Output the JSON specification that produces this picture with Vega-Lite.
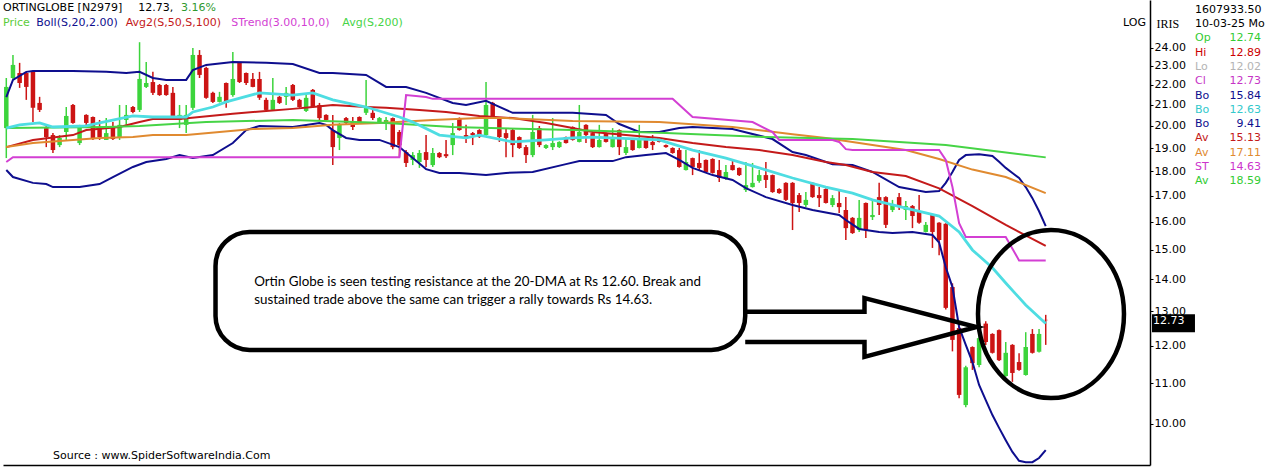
{
 "$schema": "https://vega.github.io/schema/vega-lite/v6.json",
 "padding": 0,
 "background": "white",
 "spacing": 45,
 "bounds": "flush",
 "config": {"view": {"stroke": null}, "font": "DejaVu Sans", "text": {"font": "DejaVu Sans", "fontSize": 11}},
 "resolve": {"scale": {"color": "independent"}},
 "datasets": {
  "ohlc": [
   {"d":0,"o":19.90,"h":22.36,"l":18.56,"c":21.90},{"d":1,"o":22.36,"h":23.59,"l":22.31,"c":23.05},{"d":2,"o":22.62,"h":23.16,"l":21.85,"c":22.10},{"d":3,"o":22.62,"h":22.68,"l":21.25,"c":21.90},{"d":4,"o":22.68,"h":22.70,"l":20.18,"c":20.86},
   {"d":5,"o":21.10,"h":21.40,"l":20.66,"c":20.76},{"d":6,"o":19.90,"h":20.00,"l":19.04,"c":19.49},{"d":7,"o":19.58,"h":19.67,"l":18.78,"c":18.91},{"d":8,"o":19.13,"h":19.58,"l":19.04,"c":19.45},{"d":9,"o":19.72,"h":20.90,"l":19.36,"c":20.47},
   {"d":10,"o":21.00,"h":21.05,"l":20.10,"c":20.14},{"d":11,"o":19.22,"h":20.05,"l":19.13,"c":19.95},{"d":12,"o":20.52,"h":20.55,"l":19.90,"c":20.14},{"d":13,"o":20.42,"h":20.45,"l":19.36,"c":19.40},{"d":14,"o":19.90,"h":20.28,"l":19.36,"c":19.49},
   {"d":15,"o":19.36,"h":20.37,"l":19.36,"c":19.67},{"d":16,"o":19.95,"h":20.18,"l":19.36,"c":19.40},{"d":17,"o":19.49,"h":21.00,"l":19.36,"c":20.05},{"d":18,"o":20.28,"h":21.00,"l":20.05,"c":20.52},{"d":19,"o":20.90,"h":20.95,"l":20.60,"c":20.66},
   {"d":20,"o":20.76,"h":24.30,"l":20.66,"c":22.31},{"d":21,"o":21.90,"h":23.21,"l":21.85,"c":22.10},{"d":22,"o":22.15,"h":22.68,"l":21.49,"c":21.60},{"d":23,"o":22.00,"h":22.05,"l":21.45,"c":21.49},{"d":24,"o":22.00,"h":22.05,"l":21.45,"c":21.49},
   {"d":25,"o":21.60,"h":21.90,"l":20.42,"c":20.45},{"d":26,"o":20.28,"h":21.00,"l":19.90,"c":20.52},{"d":27,"o":20.05,"h":21.00,"l":19.67,"c":20.52},{"d":28,"o":20.86,"h":23.97,"l":20.76,"c":23.59},{"d":29,"o":23.59,"h":23.86,"l":22.36,"c":22.52},
   {"d":30,"o":22.89,"h":22.95,"l":21.30,"c":21.35},{"d":31,"o":21.60,"h":21.65,"l":21.10,"c":21.15},{"d":32,"o":21.15,"h":21.65,"l":21.12,"c":21.40},{"d":33,"o":22.10,"h":22.12,"l":20.86,"c":21.10},{"d":34,"o":21.49,"h":23.75,"l":21.40,"c":22.31},
   {"d":35,"o":23.16,"h":23.20,"l":22.10,"c":22.15},{"d":36,"o":22.62,"h":22.65,"l":22.00,"c":22.10},{"d":37,"o":22.31,"h":22.62,"l":21.88,"c":21.90},{"d":38,"o":22.31,"h":22.68,"l":21.25,"c":21.35},{"d":39,"o":21.25,"h":21.35,"l":20.66,"c":20.76},
   {"d":40,"o":20.76,"h":22.36,"l":20.74,"c":21.25},{"d":41,"o":21.40,"h":21.45,"l":21.05,"c":21.10},{"d":42,"o":21.40,"h":21.90,"l":21.00,"c":21.60},{"d":43,"o":22.00,"h":22.05,"l":21.20,"c":21.25},{"d":44,"o":21.25,"h":21.30,"l":20.86,"c":20.90},
   {"d":45,"o":20.71,"h":21.49,"l":20.66,"c":21.35},{"d":46,"o":21.75,"h":21.80,"l":20.86,"c":20.90},{"d":47,"o":21.00,"h":21.10,"l":20.28,"c":20.37},{"d":48,"o":20.52,"h":20.55,"l":20.25,"c":20.28},{"d":49,"o":19.81,"h":20.52,"l":18.26,"c":19.04},
   {"d":50,"o":19.45,"h":20.14,"l":18.91,"c":20.05},{"d":51,"o":20.37,"h":20.42,"l":20.05,"c":20.14},{"d":52,"o":20.18,"h":20.42,"l":19.81,"c":19.95},{"d":53,"o":20.42,"h":20.45,"l":20.15,"c":20.18},{"d":54,"o":20.62,"h":22.26,"l":20.52,"c":20.90},
   {"d":55,"o":20.62,"h":20.90,"l":20.28,"c":20.37},{"d":56,"o":20.18,"h":20.42,"l":20.14,"c":20.37},{"d":57,"o":20.14,"h":20.42,"l":19.81,"c":20.28},{"d":58,"o":20.37,"h":20.40,"l":18.95,"c":19.04},{"d":59,"o":19.72,"h":19.81,"l":18.60,"c":19.13},
   {"d":60,"o":18.82,"h":18.91,"l":18.18,"c":18.35},{"d":61,"o":18.48,"h":18.82,"l":18.26,"c":18.69},{"d":62,"o":18.39,"h":18.91,"l":18.14,"c":18.78},{"d":63,"o":18.82,"h":19.58,"l":18.18,"c":18.48},{"d":64,"o":18.26,"h":19.00,"l":18.18,"c":18.78},
   {"d":65,"o":18.78,"h":18.82,"l":18.56,"c":18.60},{"d":66,"o":18.73,"h":19.36,"l":18.56,"c":18.64},{"d":67,"o":19.13,"h":20.14,"l":18.69,"c":19.67},{"d":68,"o":20.37,"h":20.40,"l":19.78,"c":19.81},{"d":69,"o":19.58,"h":20.05,"l":19.22,"c":19.45},
   {"d":70,"o":19.67,"h":19.72,"l":19.13,"c":19.58},{"d":71,"o":19.81,"h":19.85,"l":19.45,"c":19.49},{"d":72,"o":19.58,"h":22.15,"l":19.49,"c":21.00},{"d":73,"o":21.10,"h":21.15,"l":20.37,"c":20.42},{"d":74,"o":20.37,"h":20.40,"l":19.27,"c":19.49},
   {"d":75,"o":19.67,"h":19.90,"l":18.60,"c":19.45},{"d":76,"o":19.81,"h":19.90,"l":18.60,"c":19.13},{"d":77,"o":19.49,"h":19.52,"l":18.96,"c":19.00},{"d":78,"o":19.04,"h":19.13,"l":18.35,"c":18.69},{"d":79,"o":18.69,"h":20.52,"l":18.60,"c":19.72},
   {"d":80,"o":19.90,"h":20.00,"l":19.04,"c":19.13},{"d":81,"o":19.00,"h":19.17,"l":18.96,"c":19.13},{"d":82,"o":19.04,"h":20.37,"l":18.91,"c":19.22},{"d":83,"o":19.04,"h":19.30,"l":19.00,"c":19.27},{"d":84,"o":19.49,"h":19.52,"l":19.20,"c":19.22},
   {"d":85,"o":19.95,"h":19.98,"l":19.33,"c":19.36},{"d":86,"o":19.27,"h":21.00,"l":19.25,"c":19.72},{"d":87,"o":20.05,"h":20.08,"l":19.22,"c":19.58},{"d":88,"o":19.67,"h":19.70,"l":19.00,"c":19.04},{"d":89,"o":19.04,"h":20.05,"l":19.02,"c":19.36},
   {"d":90,"o":19.67,"h":19.70,"l":19.25,"c":19.27},{"d":91,"o":19.04,"h":19.90,"l":19.02,"c":19.45},{"d":92,"o":19.81,"h":19.84,"l":18.69,"c":19.04},{"d":93,"o":18.78,"h":19.45,"l":18.69,"c":19.04},{"d":94,"o":19.36,"h":19.40,"l":18.88,"c":18.91},
   {"d":95,"o":19.00,"h":20.05,"l":18.98,"c":19.36},{"d":96,"o":19.36,"h":19.40,"l":18.97,"c":19.00},{"d":97,"o":19.27,"h":19.58,"l":18.91,"c":19.13},{"d":98,"o":19.45,"h":19.48,"l":19.25,"c":19.27},{"d":99,"o":19.13,"h":19.16,"l":19.01,"c":19.04},
   {"d":100,"o":19.00,"h":19.03,"l":18.75,"c":18.78},{"d":101,"o":18.91,"h":19.00,"l":18.15,"c":18.18},{"d":102,"o":18.05,"h":18.91,"l":18.03,"c":18.39},{"d":103,"o":18.56,"h":18.58,"l":17.84,"c":18.18},{"d":104,"o":18.35,"h":18.91,"l":18.05,"c":18.14},
   {"d":105,"o":18.48,"h":18.50,"l":17.93,"c":17.97},{"d":106,"o":18.52,"h":18.55,"l":17.90,"c":17.93},{"d":107,"o":18.05,"h":18.48,"l":17.56,"c":17.72},{"d":108,"o":17.72,"h":18.26,"l":17.64,"c":17.97},{"d":109,"o":18.26,"h":18.48,"l":18.03,"c":18.05},
   {"d":110,"o":18.14,"h":18.16,"l":17.80,"c":17.84},{"d":111,"o":17.23,"h":18.39,"l":17.15,"c":17.43},{"d":112,"o":17.35,"h":18.35,"l":17.33,"c":17.52},{"d":113,"o":17.60,"h":18.05,"l":17.52,"c":17.84},{"d":114,"o":17.84,"h":18.39,"l":17.31,"c":17.64},
   {"d":115,"o":17.84,"h":17.86,"l":17.12,"c":17.15},{"d":116,"o":17.27,"h":17.30,"l":17.08,"c":17.11},{"d":117,"o":17.52,"h":17.55,"l":16.80,"c":16.84},{"d":118,"o":17.52,"h":17.55,"l":15.70,"c":16.72},{"d":119,"o":17.03,"h":17.11,"l":16.37,"c":16.72},
   {"d":120,"o":16.64,"h":17.15,"l":16.56,"c":16.84},{"d":121,"o":17.52,"h":17.55,"l":16.92,"c":16.95},{"d":122,"o":17.03,"h":17.35,"l":16.56,"c":16.91},{"d":123,"o":17.27,"h":17.30,"l":16.70,"c":16.72},{"d":124,"o":16.64,"h":17.03,"l":16.56,"c":16.91},
   {"d":125,"o":16.72,"h":17.23,"l":16.33,"c":16.56},{"d":126,"o":16.45,"h":16.95,"l":15.34,"c":15.77},{"d":127,"o":16.15,"h":16.18,"l":15.56,"c":15.59},{"d":128,"o":15.70,"h":16.84,"l":15.63,"c":16.15},{"d":129,"o":16.72,"h":16.74,"l":15.41,"c":15.70},
   {"d":130,"o":16.18,"h":16.84,"l":16.07,"c":16.26},{"d":131,"o":16.95,"h":17.52,"l":16.26,"c":16.64},{"d":132,"o":16.95,"h":16.98,"l":15.77,"c":15.89},{"d":133,"o":16.45,"h":16.84,"l":16.37,"c":16.64},{"d":134,"o":16.95,"h":17.11,"l":16.45,"c":16.56},
   {"d":135,"o":16.45,"h":16.80,"l":16.07,"c":16.60},{"d":136,"o":16.60,"h":16.64,"l":15.77,"c":16.22},{"d":137,"o":16.37,"h":17.03,"l":15.93,"c":15.97},{"d":138,"o":15.63,"h":16.00,"l":15.61,"c":15.89},{"d":139,"o":16.26,"h":16.28,"l":15.06,"c":15.63},
   {"d":140,"o":15.97,"h":15.99,"l":14.81,"c":15.34},{"d":141,"o":15.93,"h":15.95,"l":13.05,"c":13.10},{"d":142,"o":13.75,"h":13.87,"l":11.84,"c":12.16},{"d":143,"o":12.50,"h":12.59,"l":10.62,"c":10.70},{"d":144,"o":10.45,"h":11.45,"l":10.40,"c":11.41},
   {"d":145,"o":11.96,"h":11.98,"l":11.34,"c":11.52},{"d":146,"o":11.47,"h":12.35,"l":11.41,"c":12.21},{"d":147,"o":12.63,"h":12.70,"l":12.02,"c":12.10},{"d":148,"o":12.33,"h":12.35,"l":11.78,"c":11.80},{"d":149,"o":12.44,"h":12.46,"l":11.58,"c":11.60},
   {"d":150,"o":11.18,"h":12.10,"l":11.16,"c":11.80},{"d":151,"o":12.02,"h":12.04,"l":11.03,"c":11.26},{"d":152,"o":11.55,"h":11.79,"l":11.32,"c":11.34},{"d":153,"o":11.21,"h":12.38,"l":11.19,"c":11.96},{"d":154,"o":12.33,"h":12.47,"l":11.78,"c":11.80},
   {"d":155,"o":11.83,"h":12.47,"l":11.81,"c":12.33},{"d":156,"o":12.74,"h":12.89,"l":12.02,"c":12.73}
  ],
  "lines": [
   {"s":"bbu","d":0,"v":21.39},{"s":"bbu","d":1,"v":22.26},{"s":"bbu","d":3,"v":22.68},{"s":"bbu","d":4,"v":22.73},{"s":"bbu","d":10,"v":22.73},{"s":"bbu","d":15,"v":22.68},{"s":"bbu","d":18,"v":22.62},{"s":"bbu","d":20,"v":22.68},{"s":"bbu","d":22,"v":22.36},{"s":"bbu","d":24,"v":22.26},{"s":"bbu","d":27,"v":22.26},{"s":"bbu","d":28,"v":22.78},{"s":"bbu","d":30,"v":23.05},{"s":"bbu","d":34,"v":23.21},{"s":"bbu","d":39,"v":23.16},{"s":"bbu","d":43,"v":23.10},{"s":"bbu","d":47,"v":22.62},{"s":"bbu","d":49,"v":22.62},{"s":"bbu","d":54,"v":22.52},{"s":"bbu","d":57,"v":21.90},{"s":"bbu","d":60,"v":21.90},{"s":"bbu","d":63,"v":21.60},{"s":"bbu","d":67,"v":21.10},{"s":"bbu","d":69,"v":21.00},{"s":"bbu","d":72,"v":21.20},{"s":"bbu","d":73,"v":21.05},{"s":"bbu","d":76,"v":20.62},{"s":"bbu","d":85,"v":20.62},{"s":"bbu","d":90,"v":20.52},{"s":"bbu","d":92,"v":20.09},{"s":"bbu","d":95,"v":19.72},{"s":"bbu","d":98,"v":19.72},{"s":"bbu","d":101,"v":19.90},{"s":"bbu","d":103,"v":19.95},{"s":"bbu","d":109,"v":19.86},{"s":"bbu","d":115,"v":19.40},{"s":"bbu","d":118,"v":18.82},{"s":"bbu","d":120,"v":18.69},{"s":"bbu","d":124,"v":18.30},{"s":"bbu","d":127,"v":18.26},{"s":"bbu","d":130,"v":17.97},{"s":"bbu","d":134,"v":17.35},{"s":"bbu","d":138,"v":17.15},{"s":"bbu","d":140,"v":17.19},{"s":"bbu","d":141,"v":17.52},{"s":"bbu","d":142,"v":17.97},{"s":"bbu","d":143,"v":18.48},{"s":"bbu","d":144,"v":18.69},{"s":"bbu","d":146,"v":18.73},{"s":"bbu","d":148,"v":18.65},{"s":"bbu","d":149,"v":18.40},{"s":"bbu","d":150,"v":18.14},{"s":"bbu","d":151,"v":17.93},{"s":"bbu","d":152,"v":17.72},{"s":"bbu","d":153,"v":17.35},{"s":"bbu","d":154,"v":16.91},{"s":"bbu","d":155,"v":16.40},{"s":"bbu","d":156,"v":15.84},
   {"s":"bbm","d":0,"v":19.90},{"s":"bbm","d":2,"v":20.05},{"s":"bbm","d":5,"v":20.14},{"s":"bbm","d":7,"v":19.95},{"s":"bbm","d":12,"v":20.00},{"s":"bbm","d":14,"v":20.14},{"s":"bbm","d":19,"v":20.47},{"s":"bbm","d":22,"v":20.42},{"s":"bbm","d":27,"v":20.42},{"s":"bbm","d":28,"v":20.66},{"s":"bbm","d":31,"v":20.90},{"s":"bbm","d":33,"v":21.15},{"s":"bbm","d":38,"v":21.60},{"s":"bbm","d":43,"v":21.49},{"s":"bbm","d":46,"v":21.60},{"s":"bbm","d":49,"v":21.25},{"s":"bbm","d":54,"v":20.90},{"s":"bbm","d":59,"v":20.42},{"s":"bbm","d":61,"v":20.18},{"s":"bbm","d":65,"v":19.58},{"s":"bbm","d":69,"v":19.45},{"s":"bbm","d":71,"v":19.58},{"s":"bbm","d":76,"v":19.27},{"s":"bbm","d":81,"v":19.36},{"s":"bbm","d":85,"v":19.45},{"s":"bbm","d":88,"v":19.49},{"s":"bbm","d":98,"v":19.36},{"s":"bbm","d":103,"v":18.91},{"s":"bbm","d":108,"v":18.56},{"s":"bbm","d":113,"v":18.14},{"s":"bbm","d":118,"v":17.72},{"s":"bbm","d":123,"v":17.35},{"s":"bbm","d":127,"v":17.11},{"s":"bbm","d":130,"v":16.84},{"s":"bbm","d":135,"v":16.52},{"s":"bbm","d":140,"v":16.22},{"s":"bbm","d":143,"v":15.63},{"s":"bbm","d":145,"v":14.99},{"s":"bbm","d":148,"v":14.38},{"s":"bbm","d":150,"v":13.88},{"s":"bbm","d":153,"v":13.19},{"s":"bbm","d":156,"v":12.63},
   {"s":"bbl","d":0,"v":18.05},{"s":"bbl","d":1,"v":17.76},{"s":"bbl","d":4,"v":17.52},{"s":"bbl","d":6,"v":17.47},{"s":"bbl","d":7,"v":17.35},{"s":"bbl","d":11,"v":17.35},{"s":"bbl","d":14,"v":17.47},{"s":"bbl","d":16,"v":17.76},{"s":"bbl","d":19,"v":18.18},{"s":"bbl","d":21,"v":18.39},{"s":"bbl","d":24,"v":18.52},{"s":"bbl","d":26,"v":18.69},{"s":"bbl","d":28,"v":18.56},{"s":"bbl","d":31,"v":18.69},{"s":"bbl","d":34,"v":19.22},{"s":"bbl","d":36,"v":19.81},{"s":"bbl","d":38,"v":20.00},{"s":"bbl","d":43,"v":19.95},{"s":"bbl","d":47,"v":20.14},{"s":"bbl","d":48,"v":20.05},{"s":"bbl","d":49,"v":19.81},{"s":"bbl","d":51,"v":19.45},{"s":"bbl","d":53,"v":19.36},{"s":"bbl","d":56,"v":19.36},{"s":"bbl","d":59,"v":19.04},{"s":"bbl","d":61,"v":18.56},{"s":"bbl","d":63,"v":18.09},{"s":"bbl","d":65,"v":17.93},{"s":"bbl","d":68,"v":17.93},{"s":"bbl","d":72,"v":17.84},{"s":"bbl","d":75,"v":17.93},{"s":"bbl","d":79,"v":17.97},{"s":"bbl","d":84,"v":18.30},{"s":"bbl","d":86,"v":18.43},{"s":"bbl","d":91,"v":18.43},{"s":"bbl","d":93,"v":18.60},{"s":"bbl","d":96,"v":18.69},{"s":"bbl","d":99,"v":18.78},{"s":"bbl","d":101,"v":18.48},{"s":"bbl","d":103,"v":18.14},{"s":"bbl","d":106,"v":17.84},{"s":"bbl","d":109,"v":17.64},{"s":"bbl","d":111,"v":17.31},{"s":"bbl","d":114,"v":16.95},{"s":"bbl","d":118,"v":16.64},{"s":"bbl","d":121,"v":16.45},{"s":"bbl","d":125,"v":16.26},{"s":"bbl","d":126,"v":16.07},{"s":"bbl","d":128,"v":15.74},{"s":"bbl","d":131,"v":15.63},{"s":"bbl","d":133,"v":15.59},{"s":"bbl","d":136,"v":15.63},{"s":"bbl","d":139,"v":15.52},{"s":"bbl","d":140,"v":15.25},{"s":"bbl","d":141,"v":14.40},{"s":"bbl","d":142,"v":13.75},{"s":"bbl","d":143,"v":12.53},{"s":"bbl","d":144,"v":12.02},{"s":"bbl","d":145,"v":11.55},{"s":"bbl","d":146,"v":10.95},{"s":"bbl","d":147,"v":10.57},{"s":"bbl","d":148,"v":10.21},{"s":"bbl","d":149,"v":9.91},{"s":"bbl","d":150,"v":9.63},{"s":"bbl","d":151,"v":9.37},{"s":"bbl","d":152,"v":9.18},{"s":"bbl","d":153,"v":9.15},{"s":"bbl","d":154,"v":9.15},{"s":"bbl","d":155,"v":9.24},{"s":"bbl","d":156,"v":9.41},
   {"s":"ma50","d":0,"v":19.04},{"s":"ma50","d":4,"v":19.36},{"s":"ma50","d":10,"v":19.58},{"s":"ma50","d":12,"v":19.81},{"s":"ma50","d":17,"v":19.95},{"s":"ma50","d":20,"v":20.18},{"s":"ma50","d":22,"v":20.33},{"s":"ma50","d":26,"v":20.33},{"s":"ma50","d":29,"v":20.42},{"s":"ma50","d":34,"v":20.57},{"s":"ma50","d":39,"v":20.71},{"s":"ma50","d":43,"v":20.81},{"s":"ma50","d":46,"v":20.90},{"s":"ma50","d":49,"v":21.00},{"s":"ma50","d":54,"v":20.90},{"s":"ma50","d":57,"v":20.86},{"s":"ma50","d":62,"v":20.76},{"s":"ma50","d":66,"v":20.66},{"s":"ma50","d":71,"v":20.47},{"s":"ma50","d":76,"v":20.37},{"s":"ma50","d":81,"v":20.14},{"s":"ma50","d":85,"v":19.90},{"s":"ma50","d":88,"v":19.72},{"s":"ma50","d":93,"v":19.58},{"s":"ma50","d":98,"v":19.45},{"s":"ma50","d":103,"v":19.22},{"s":"ma50","d":108,"v":19.04},{"s":"ma50","d":113,"v":18.91},{"s":"ma50","d":118,"v":18.69},{"s":"ma50","d":123,"v":18.39},{"s":"ma50","d":126,"v":18.26},{"s":"ma50","d":130,"v":17.97},{"s":"ma50","d":135,"v":17.80},{"s":"ma50","d":140,"v":17.30},{"s":"ma50","d":145,"v":16.60},{"s":"ma50","d":150,"v":15.89},{"s":"ma50","d":156,"v":15.13},
   {"s":"ma100","d":0,"v":19.04},{"s":"ma100","d":4,"v":19.22},{"s":"ma100","d":10,"v":19.36},{"s":"ma100","d":14,"v":19.45},{"s":"ma100","d":19,"v":19.49},{"s":"ma100","d":22,"v":19.58},{"s":"ma100","d":27,"v":19.58},{"s":"ma100","d":32,"v":19.72},{"s":"ma100","d":37,"v":19.86},{"s":"ma100","d":43,"v":19.90},{"s":"ma100","d":49,"v":20.05},{"s":"ma100","d":56,"v":20.14},{"s":"ma100","d":64,"v":20.28},{"s":"ma100","d":71,"v":20.37},{"s":"ma100","d":75,"v":20.37},{"s":"ma100","d":85,"v":20.23},{"s":"ma100","d":98,"v":20.18},{"s":"ma100","d":109,"v":19.95},{"s":"ma100","d":118,"v":19.62},{"s":"ma100","d":123,"v":19.45},{"s":"ma100","d":127,"v":19.27},{"s":"ma100","d":135,"v":18.91},{"s":"ma100","d":140,"v":18.52},{"s":"ma100","d":145,"v":18.07},{"s":"ma100","d":150,"v":17.76},{"s":"ma100","d":156,"v":17.11},
   {"s":"ma200","d":0,"v":19.90},{"s":"ma200","d":15,"v":19.95},{"s":"ma200","d":20,"v":20.00},{"s":"ma200","d":30,"v":20.18},{"s":"ma200","d":43,"v":20.28},{"s":"ma200","d":57,"v":20.14},{"s":"ma200","d":67,"v":19.95},{"s":"ma200","d":85,"v":19.81},{"s":"ma200","d":99,"v":19.67},{"s":"ma200","d":114,"v":19.49},{"s":"ma200","d":127,"v":19.40},{"s":"ma200","d":141,"v":19.13},{"s":"ma200","d":156,"v":18.59},
   {"s":"st","d":0,"v":18.39},{"s":"st","d":1,"v":18.60},{"s":"st","d":59,"v":18.60},{"s":"st","d":60,"v":21.49},{"s":"st","d":63,"v":21.39},{"s":"st","d":64,"v":21.30},{"s":"st","d":100,"v":21.30},{"s":"st","d":103,"v":20.42},{"s":"st","d":112,"v":20.18},{"s":"st","d":115,"v":19.72},{"s":"st","d":116,"v":19.36},{"s":"st","d":124,"v":19.36},{"s":"st","d":125,"v":19.27},{"s":"st","d":126,"v":18.95},{"s":"st","d":127,"v":18.91},{"s":"st","d":140,"v":18.91},{"s":"st","d":141,"v":18.48},{"s":"st","d":142,"v":17.35},{"s":"st","d":143,"v":15.95},{"s":"st","d":144,"v":15.45},{"s":"st","d":150,"v":15.45},{"s":"st","d":152,"v":14.63},{"s":"st","d":156,"v":14.63}
  ],
  "hdr": [
   {"t":"ORTINGLOBE [N2979]","d":-0.495,"p":26.31,"s":"hdr"},
   {"t":"12.73,","d":19.8,"p":26.31,"s":"hdr"},
   {"t":"3.16%","d":26.22,"p":26.31,"s":"chg"},
   {"t":"Price","d":-0.495,"p":25.41,"s":"price"},
   {"t":"Boll(S,20,2.00)","d":4.5,"p":25.41,"s":"bbu"},
   {"t":"Avg2(S,50,S,100)","d":17.92,"p":25.41,"s":"ma50"},
   {"t":"STrend(3.00,10,0)","d":33.77,"p":25.41,"s":"st"},
   {"t":"Avg(S,200)","d":50.43,"p":25.41,"s":"ma200"},
   {"t":"LOG","d":167.6,"p":25.41,"s":"hdr"},
   {"t":"Source : www.SpiderSoftwareIndia.Com","d":7.01,"p":9.283,"s":"hdr"}
  ],
  "panel": [
   {"r":0,"k":"1607933.50","v":"","s":"hdr"},
   {"r":1,"k":"10-03-25 Mo","v":"","s":"hdr"},
   {"r":2,"k":"Op","v":"12.74","s":"op"},
   {"r":3,"k":"Hi","v":"12.89","s":"hi"},
   {"r":4,"k":"Lo","v":"12.02","s":"lo"},
   {"r":5,"k":"Cl","v":"12.73","s":"cl"},
   {"r":6,"k":"Bo","v":"15.84","s":"bbu"},
   {"r":7,"k":"Bo","v":"12.63","s":"bbm"},
   {"r":8,"k":"Bo","v":"9.41","s":"bbl"},
   {"r":9,"k":"Av","v":"15.13","s":"ma50"},
   {"r":10,"k":"Av","v":"17.11","s":"ma100"},
   {"r":11,"k":"ST","v":"14.63","s":"st"},
   {"r":12,"k":"Av","v":"18.59","s":"ma200"}
  ]
 },
 "hconcat": [
  {
   "width": 1147,
   "height": 465,
   "layer": [
    {
     "data": {"name": "ohlc"},
     "mark": {"type": "rule", "strokeWidth": 1.5},
     "encoding": {
      "x": {"field": "d", "type": "quantitative", "scale": {"domain": [-0.495, 171.65], "nice": false, "zero": false, "padding": 0}, "axis": {"labels": false, "ticks": false, "grid": false, "title": null, "domainColor": "#000000", "domainWidth": 1.5}},
      "y": {"field": "l", "type": "quantitative", "scale": {"type": "log", "domain": [9.0905, 26.806], "nice": false}, "axis": {"orient": "right", "values": [10,11,12,13,14,15,16,17,18,19,20,21,22,23,24], "format": ".2f", "grid": false, "domainColor": "#000000", "domainWidth": 1.5, "tickColor": "#000000", "tickSize": 3, "tickWidth": 1, "labelColor": "#000000", "labelFont": "DejaVu Sans", "labelFontSize": 11, "labelPadding": 1, "labelOverlap": false, "labelFlush": false, "title": "IRIS", "titleAngle": 0, "titleAlign": "left", "titleBaseline": "middle", "titleX": 6, "titleY": 23, "titleFont": "Liberation Serif", "titleFontSize": 12, "titleFontWeight": "normal", "titleColor": "#000000"}},
      "y2": {"field": "h"},
      "color": {"condition": {"test": "datum.c >= datum.o", "value": "#3cd43c"}, "value": "#cc1414"}
     }
    },
    {
     "data": {"name": "ohlc"},
     "mark": {"type": "bar", "size": 4.5},
     "encoding": {
      "x": {"field": "d", "type": "quantitative", "scale": {"domain": [-0.495, 171.65], "nice": false, "zero": false, "padding": 0}, "axis": {"labels": false, "ticks": false, "grid": false, "title": null, "domainColor": "#000000", "domainWidth": 1.5}},
      "y": {"field": "o", "type": "quantitative", "scale": {"type": "log", "domain": [9.0905, 26.806], "nice": false}, "axis": {"orient": "right", "values": [10,11,12,13,14,15,16,17,18,19,20,21,22,23,24], "format": ".2f", "grid": false, "domainColor": "#000000", "domainWidth": 1.5, "tickColor": "#000000", "tickSize": 3, "tickWidth": 1, "labelColor": "#000000", "labelFont": "DejaVu Sans", "labelFontSize": 11, "labelPadding": 1, "labelOverlap": false, "labelFlush": false, "title": "IRIS", "titleAngle": 0, "titleAlign": "left", "titleBaseline": "middle", "titleX": 6, "titleY": 23, "titleFont": "Liberation Serif", "titleFontSize": 12, "titleFontWeight": "normal", "titleColor": "#000000"}},
      "y2": {"field": "c"},
      "color": {"condition": {"test": "datum.c >= datum.o", "value": "#3cd43c"}, "value": "#cc1414"}
     }
    },
    {
     "data": {"name": "lines"},
     "transform": [{"filter": "datum.s != 'bbm'"}],
     "mark": {"type": "line", "strokeWidth": 2},
     "encoding": {
      "x": {"field": "d", "type": "quantitative", "scale": {"domain": [-0.495, 171.65], "nice": false, "zero": false, "padding": 0}, "axis": {"labels": false, "ticks": false, "grid": false, "title": null, "domainColor": "#000000", "domainWidth": 1.5}},
      "y": {"field": "v", "type": "quantitative", "scale": {"type": "log", "domain": [9.0905, 26.806], "nice": false}, "axis": {"orient": "right", "values": [10,11,12,13,14,15,16,17,18,19,20,21,22,23,24], "format": ".2f", "grid": false, "domainColor": "#000000", "domainWidth": 1.5, "tickColor": "#000000", "tickSize": 3, "tickWidth": 1, "labelColor": "#000000", "labelFont": "DejaVu Sans", "labelFontSize": 11, "labelPadding": 1, "labelOverlap": false, "labelFlush": false, "title": "IRIS", "titleAngle": 0, "titleAlign": "left", "titleBaseline": "middle", "titleX": 6, "titleY": 23, "titleFont": "Liberation Serif", "titleFontSize": 12, "titleFontWeight": "normal", "titleColor": "#000000"}},
      "color": {"field": "s", "type": "nominal", "scale": {"domain": ["bbu","bbm","bbl","ma50","ma100","st","ma200","price","hdr","chg"], "range": ["#0e0e8e","#4edde2","#0e0e8e","#c41a1a","#e08a30","#d33fd3","#46d446","#5ccc3c","#000000","#2f9a2f"]}, "legend": null}
     }
    },
    {
     "data": {"name": "lines"},
     "transform": [{"filter": "datum.s == 'bbm'"}],
     "mark": {"type": "line", "strokeWidth": 2.8},
     "encoding": {
      "x": {"field": "d", "type": "quantitative", "scale": {"domain": [-0.495, 171.65], "nice": false, "zero": false, "padding": 0}, "axis": {"labels": false, "ticks": false, "grid": false, "title": null, "domainColor": "#000000", "domainWidth": 1.5}},
      "y": {"field": "v", "type": "quantitative", "scale": {"type": "log", "domain": [9.0905, 26.806], "nice": false}, "axis": {"orient": "right", "values": [10,11,12,13,14,15,16,17,18,19,20,21,22,23,24], "format": ".2f", "grid": false, "domainColor": "#000000", "domainWidth": 1.5, "tickColor": "#000000", "tickSize": 3, "tickWidth": 1, "labelColor": "#000000", "labelFont": "DejaVu Sans", "labelFontSize": 11, "labelPadding": 1, "labelOverlap": false, "labelFlush": false, "title": "IRIS", "titleAngle": 0, "titleAlign": "left", "titleBaseline": "middle", "titleX": 6, "titleY": 23, "titleFont": "Liberation Serif", "titleFontSize": 12, "titleFontWeight": "normal", "titleColor": "#000000"}},
      "color": {"field": "s", "type": "nominal", "scale": {"domain": ["bbu","bbm","bbl","ma50","ma100","st","ma200","price","hdr","chg"], "range": ["#0e0e8e","#4edde2","#0e0e8e","#c41a1a","#e08a30","#d33fd3","#46d446","#5ccc3c","#000000","#2f9a2f"]}, "legend": null}
     }
    },
    {
     "data": {"values": [{"d": 31.4, "d2": 110.9, "p": 15.63, "p2": 11.88}]},
     "mark": {"type": "rect", "fill": "#ffffff", "stroke": "#000000", "strokeWidth": 4.5, "cornerRadius": 34},
     "encoding": {
      "x": {"field": "d", "type": "quantitative", "scale": {"domain": [-0.495, 171.65], "nice": false, "zero": false, "padding": 0}, "axis": {"labels": false, "ticks": false, "grid": false, "title": null, "domainColor": "#000000", "domainWidth": 1.5}},
      "x2": {"field": "d2"},
      "y": {"field": "p", "type": "quantitative", "scale": {"type": "log", "domain": [9.0905, 26.806], "nice": false}, "axis": {"orient": "right", "values": [10,11,12,13,14,15,16,17,18,19,20,21,22,23,24], "format": ".2f", "grid": false, "domainColor": "#000000", "domainWidth": 1.5, "tickColor": "#000000", "tickSize": 3, "tickWidth": 1, "labelColor": "#000000", "labelFont": "DejaVu Sans", "labelFontSize": 11, "labelPadding": 1, "labelOverlap": false, "labelFlush": false, "title": "IRIS", "titleAngle": 0, "titleAlign": "left", "titleBaseline": "middle", "titleX": 6, "titleY": 23, "titleFont": "Liberation Serif", "titleFontSize": 12, "titleFontWeight": "normal", "titleColor": "#000000"}},
      "y2": {"field": "p2"}
     }
    },
    {
     "data": {"values": [{"k":0,"d":110.9,"p":12.98},{"k":1,"d":128.8,"p":12.98},{"k":2,"d":128.8,"p":13.40},{"k":3,"d":145.6,"p":12.53},{"k":4,"d":128.8,"p":11.69},{"k":5,"d":128.8,"p":12.10},{"k":6,"d":110.9,"p":12.10}]},
     "mark": {"type": "line", "color": "#000000", "strokeWidth": 4.5, "strokeJoin": "miter"},
     "encoding": {
      "x": {"field": "d", "type": "quantitative", "scale": {"domain": [-0.495, 171.65], "nice": false, "zero": false, "padding": 0}, "axis": {"labels": false, "ticks": false, "grid": false, "title": null, "domainColor": "#000000", "domainWidth": 1.5}},
      "y": {"field": "p", "type": "quantitative", "scale": {"type": "log", "domain": [9.0905, 26.806], "nice": false}, "axis": {"orient": "right", "values": [10,11,12,13,14,15,16,17,18,19,20,21,22,23,24], "format": ".2f", "grid": false, "domainColor": "#000000", "domainWidth": 1.5, "tickColor": "#000000", "tickSize": 3, "tickWidth": 1, "labelColor": "#000000", "labelFont": "DejaVu Sans", "labelFontSize": 11, "labelPadding": 1, "labelOverlap": false, "labelFlush": false, "title": "IRIS", "titleAngle": 0, "titleAlign": "left", "titleBaseline": "middle", "titleX": 6, "titleY": 23, "titleFont": "Liberation Serif", "titleFontSize": 12, "titleFontWeight": "normal", "titleColor": "#000000"}},
      "order": {"field": "k", "type": "quantitative"}
     }
    },
    {
     "data": {"values": [{"d": 156.79, "p": 12.915}]},
     "mark": {"type": "point", "shape": "M0,-1C0.48,-1 0.869,-0.5523 0.869,0C0.869,0.5523 0.48,1 0,1C-0.48,1 -0.869,0.5523 -0.869,0C-0.869,-0.5523 -0.48,-1 0,-1Z", "size": 28224, "filled": false, "color": "#000000", "stroke": "#000000", "strokeWidth": 4.5, "opacity": 1},
     "encoding": {
      "x": {"field": "d", "type": "quantitative", "scale": {"domain": [-0.495, 171.65], "nice": false, "zero": false, "padding": 0}, "axis": {"labels": false, "ticks": false, "grid": false, "title": null, "domainColor": "#000000", "domainWidth": 1.5}},
      "y": {"field": "p", "type": "quantitative", "scale": {"type": "log", "domain": [9.0905, 26.806], "nice": false}, "axis": {"orient": "right", "values": [10,11,12,13,14,15,16,17,18,19,20,21,22,23,24], "format": ".2f", "grid": false, "domainColor": "#000000", "domainWidth": 1.5, "tickColor": "#000000", "tickSize": 3, "tickWidth": 1, "labelColor": "#000000", "labelFont": "DejaVu Sans", "labelFontSize": 11, "labelPadding": 1, "labelOverlap": false, "labelFlush": false, "title": "IRIS", "titleAngle": 0, "titleAlign": "left", "titleBaseline": "middle", "titleX": 6, "titleY": 23, "titleFont": "Liberation Serif", "titleFontSize": 12, "titleFontWeight": "normal", "titleColor": "#000000"}}
     }
    },
    {
     "data": {"name": "hdr"},
     "mark": {"type": "text", "align": "left", "baseline": "middle", "font": "DejaVu Sans", "fontSize": 11},
     "encoding": {
      "x": {"field": "d", "type": "quantitative", "scale": {"domain": [-0.495, 171.65], "nice": false, "zero": false, "padding": 0}, "axis": {"labels": false, "ticks": false, "grid": false, "title": null, "domainColor": "#000000", "domainWidth": 1.5}},
      "y": {"field": "p", "type": "quantitative", "scale": {"type": "log", "domain": [9.0905, 26.806], "nice": false}, "axis": {"orient": "right", "values": [10,11,12,13,14,15,16,17,18,19,20,21,22,23,24], "format": ".2f", "grid": false, "domainColor": "#000000", "domainWidth": 1.5, "tickColor": "#000000", "tickSize": 3, "tickWidth": 1, "labelColor": "#000000", "labelFont": "DejaVu Sans", "labelFontSize": 11, "labelPadding": 1, "labelOverlap": false, "labelFlush": false, "title": "IRIS", "titleAngle": 0, "titleAlign": "left", "titleBaseline": "middle", "titleX": 6, "titleY": 23, "titleFont": "Liberation Serif", "titleFontSize": 12, "titleFontWeight": "normal", "titleColor": "#000000"}},
      "text": {"field": "t"},
      "color": {"field": "s", "type": "nominal", "scale": {"domain": ["bbu","bbm","bbl","ma50","ma100","st","ma200","price","hdr","chg"], "range": ["#0e0e8e","#4edde2","#0e0e8e","#c41a1a","#e08a30","#d33fd3","#46d446","#5ccc3c","#000000","#2f9a2f"]}, "legend": null}
     }
    },
    {
     "data": {"values": [
      {"t": "Ortin Globe is seen testing resistance at the 20-DMA at Rs 12.60. Break and", "d": 37.2, "p": 13.91},
      {"t": "sustained trade above the same can trigger a rally towards Rs 14.63.", "d": 37.2, "p": 13.34}
     ]},
     "mark": {"type": "text", "align": "left", "baseline": "middle", "font": "Lato", "fontSize": 13.4, "color": "#000000"},
     "encoding": {
      "x": {"field": "d", "type": "quantitative", "scale": {"domain": [-0.495, 171.65], "nice": false, "zero": false, "padding": 0}, "axis": {"labels": false, "ticks": false, "grid": false, "title": null, "domainColor": "#000000", "domainWidth": 1.5}},
      "y": {"field": "p", "type": "quantitative", "scale": {"type": "log", "domain": [9.0905, 26.806], "nice": false}, "axis": {"orient": "right", "values": [10,11,12,13,14,15,16,17,18,19,20,21,22,23,24], "format": ".2f", "grid": false, "domainColor": "#000000", "domainWidth": 1.5, "tickColor": "#000000", "tickSize": 3, "tickWidth": 1, "labelColor": "#000000", "labelFont": "DejaVu Sans", "labelFontSize": 11, "labelPadding": 1, "labelOverlap": false, "labelFlush": false, "title": "IRIS", "titleAngle": 0, "titleAlign": "left", "titleBaseline": "middle", "titleX": 6, "titleY": 23, "titleFont": "Liberation Serif", "titleFontSize": 12, "titleFontWeight": "normal", "titleColor": "#000000"}},
      "text": {"field": "t"}
     }
    },
    {
     "data": {"values": [{"d": 171.95, "d2": 178.4, "p": 12.91, "p2": 12.38}]},
     "mark": {"type": "rect", "fill": "#000000"},
     "encoding": {
      "x": {"field": "d", "type": "quantitative", "scale": {"domain": [-0.495, 171.65], "nice": false, "zero": false, "padding": 0}, "axis": {"labels": false, "ticks": false, "grid": false, "title": null, "domainColor": "#000000", "domainWidth": 1.5}},
      "x2": {"field": "d2"},
      "y": {"field": "p", "type": "quantitative", "scale": {"type": "log", "domain": [9.0905, 26.806], "nice": false}, "axis": {"orient": "right", "values": [10,11,12,13,14,15,16,17,18,19,20,21,22,23,24], "format": ".2f", "grid": false, "domainColor": "#000000", "domainWidth": 1.5, "tickColor": "#000000", "tickSize": 3, "tickWidth": 1, "labelColor": "#000000", "labelFont": "DejaVu Sans", "labelFontSize": 11, "labelPadding": 1, "labelOverlap": false, "labelFlush": false, "title": "IRIS", "titleAngle": 0, "titleAlign": "left", "titleBaseline": "middle", "titleX": 6, "titleY": 23, "titleFont": "Liberation Serif", "titleFontSize": 12, "titleFontWeight": "normal", "titleColor": "#000000"}},
      "y2": {"field": "p2"}
     }
    },
    {
     "data": {"values": [{"t": "12.73", "d": 172.1, "p": 12.71}]},
     "mark": {"type": "text", "align": "left", "baseline": "middle", "font": "DejaVu Sans", "fontSize": 11, "color": "#ffffff"},
     "encoding": {
      "x": {"field": "d", "type": "quantitative", "scale": {"domain": [-0.495, 171.65], "nice": false, "zero": false, "padding": 0}, "axis": {"labels": false, "ticks": false, "grid": false, "title": null, "domainColor": "#000000", "domainWidth": 1.5}},
      "y": {"field": "p", "type": "quantitative", "scale": {"type": "log", "domain": [9.0905, 26.806], "nice": false}, "axis": {"orient": "right", "values": [10,11,12,13,14,15,16,17,18,19,20,21,22,23,24], "format": ".2f", "grid": false, "domainColor": "#000000", "domainWidth": 1.5, "tickColor": "#000000", "tickSize": 3, "tickWidth": 1, "labelColor": "#000000", "labelFont": "DejaVu Sans", "labelFontSize": 11, "labelPadding": 1, "labelOverlap": false, "labelFlush": false, "title": "IRIS", "titleAngle": 0, "titleAlign": "left", "titleBaseline": "middle", "titleX": 6, "titleY": 23, "titleFont": "Liberation Serif", "titleFontSize": 12, "titleFontWeight": "normal", "titleColor": "#000000"}},
      "text": {"field": "t"}
     }
    }
   ]
  },
  {
   "width": 66,
   "height": 191,
   "data": {"name": "panel"},
   "layer": [
    {
     "mark": {"type": "text", "align": "left", "baseline": "middle", "font": "DejaVu Sans", "fontSize": 11},
     "encoding": {
      "x": {"datum": 0, "type": "quantitative", "scale": {"domain": [0, 1], "nice": false, "zero": false}, "axis": null},
      "y": {"field": "r", "type": "ordinal", "scale": {"type": "point", "padding": 0.7}, "axis": null},
      "text": {"field": "k"},
      "color": {"field": "s", "type": "nominal", "scale": {"domain": ["hdr","op","hi","lo","cl","bbu","bbm","bbl","ma50","ma100","st","ma200"], "range": ["#000000","#33cc33","#cc0000","#b4b4b4","#c633c6","#0e0e8e","#33c9cc","#0e0e8e","#c41a1a","#e08a30","#cc33cc","#33cc33"]}, "legend": null}
     }
    },
    {
     "mark": {"type": "text", "align": "right", "baseline": "middle", "font": "DejaVu Sans", "fontSize": 11},
     "encoding": {
      "x": {"datum": 1, "type": "quantitative", "scale": {"domain": [0, 1], "nice": false, "zero": false}, "axis": null},
      "y": {"field": "r", "type": "ordinal", "scale": {"type": "point", "padding": 0.7}, "axis": null},
      "text": {"field": "v"},
      "color": {"field": "s", "type": "nominal", "scale": {"domain": ["hdr","op","hi","lo","cl","bbu","bbm","bbl","ma50","ma100","st","ma200"], "range": ["#000000","#33cc33","#cc0000","#b4b4b4","#c633c6","#0e0e8e","#33c9cc","#0e0e8e","#c41a1a","#e08a30","#cc33cc","#33cc33"]}, "legend": null}
     }
    }
   ]
  }
 ]
}
